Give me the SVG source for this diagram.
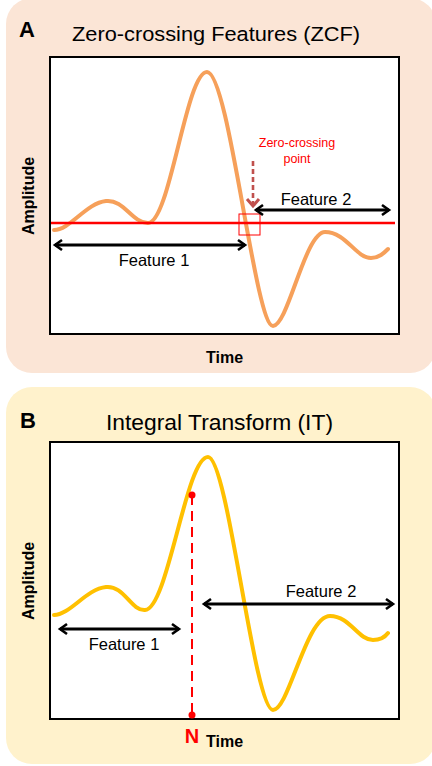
<svg xmlns="http://www.w3.org/2000/svg" width="432" height="766" viewBox="0 0 432 766">
  <style>
    .panel-a { fill: #FBE5D6; }
    .panel-b { fill: #FFF2CC; }
    .plot { fill: #FFFFFF; stroke: #000000; stroke-width: 2; }
    .title { font-family: "Liberation Sans", Arial, sans-serif; fill: #000; }
    .letter { font-family: "Liberation Sans", Arial, sans-serif; font-weight: bold; font-size: 22px; fill: #000; }
    .axis { font-family: "Liberation Sans", Arial, sans-serif; font-weight: bold; font-size: 16px; fill: #000; }
    .feat { font-family: "Liberation Sans", Arial, sans-serif; font-size: 16.5px; fill: #000; }
    .note { font-family: "Liberation Sans", Arial, sans-serif; font-size: 12.5px; fill: #FF0000; }
    .span { stroke: #000; stroke-width: 3; fill: none; marker-start: url(#chev); marker-end: url(#chev); }
    .wave-a { fill: none; stroke: #F6A05A; stroke-width: 4; stroke-linecap: round; stroke-linejoin: round; }
    .wave-b { fill: none; stroke: #FFC000; stroke-width: 4; stroke-linecap: round; stroke-linejoin: round; }
  </style>
  <defs>
    <marker id="chev" markerUnits="userSpaceOnUse" markerWidth="14" markerHeight="14" viewBox="-10 -7 12 14" refX="0" refY="0" orient="auto-start-reverse">
      <path d="M-7,-5 L0,0 L-7,5" fill="none" stroke="#000" stroke-width="2.6" stroke-linejoin="miter"/>
    </marker>
    <marker id="chev-red" markerUnits="userSpaceOnUse" markerWidth="16" markerHeight="16" viewBox="-10 -8 12 16" refX="0" refY="0" orient="auto">
      <path d="M-7,-6 L0,0 L-7,6" fill="none" stroke="#C0504D" stroke-width="3"/>
    </marker>
  </defs>

  <!-- Panel A: zero-crossing features -->
  <g id="panel-a">
    <rect class="panel-a" x="6" y="-2" width="430" height="375" rx="26"/>
    <text class="letter" x="19" y="37">A</text>
    <text class="title" x="72" y="41" font-size="20.5" textLength="288" lengthAdjust="spacingAndGlyphs">Zero-crossing Features (ZCF)</text>
    <rect class="plot" x="50" y="57" width="349" height="277"/>
    <text class="axis" transform="translate(34,196) rotate(-90)" text-anchor="middle">Amplitude</text>
    <text class="axis" x="224.5" y="363" text-anchor="middle">Time</text>
  </g>

  <g id="wave-a">
    <path class="wave-a" d="M54,230 C70,230 86,203 106,201 C124,199 132,223 148,223 C170,223 186,72 207,72 C229,72 255,326 273,326 C288,326 305,232 325,232 C346,232 356,258 371,258 C379,258 384,253 388,249"/>
  </g>

  <g id="zero-line">
    <line x1="51" y1="223" x2="395" y2="223" stroke="#FF0000" stroke-width="2.5"/>
    <rect x="239" y="214" width="21" height="21" fill="none" stroke="#FF0000" stroke-width="1"/>
  </g>

  <g id="zero-crossing-label">
    <text class="note" x="297" y="147" text-anchor="middle">Zero-crossing</text>
    <text class="note" x="297" y="163" text-anchor="middle">point</text>
  </g>

  <g id="feature-labels-a">
    <text class="feat" x="316" y="205" text-anchor="middle">Feature 2</text>
    <text class="feat" x="154" y="266" text-anchor="middle">Feature 1</text>
  </g>

  <!-- Panel B: integral transform -->
  <g id="panel-b">
    <rect class="panel-b" x="6" y="387" width="430" height="377" rx="26"/>
    <text class="letter" x="20" y="428">B</text>
    <text class="title" x="106" y="430" font-size="21.5" textLength="227" lengthAdjust="spacingAndGlyphs">Integral Transform (IT)</text>
    <rect class="plot" x="50" y="442" width="349" height="277"/>
    <text class="axis" transform="translate(34,581) rotate(-90)" text-anchor="middle">Amplitude</text>
    <text class="axis" x="224.5" y="747" text-anchor="middle">Time</text>
    <text x="192" y="743" text-anchor="middle" font-family="Liberation Sans, Arial, sans-serif" font-weight="bold" font-size="20" fill="#FF0000">N</text>
  </g>

  <g id="wave-b">
    <path class="wave-b" d="M54,615 C70,615 86,589 106,587 C124,585 131,611 145,610 C168,609 186,457 208,457 C228,457 254,710 273,710 C289,710 306,616 330,616 C350,616 358,640 373,640 C380,640 385,637 388,633"/>
  </g>

  <g id="marker-n">
    <line x1="192" y1="495" x2="192" y2="715" stroke="#FF0000" stroke-width="2" stroke-dasharray="10,6"/>
    <circle cx="192" cy="495" r="3.5" fill="#FF0000"/>
    <circle cx="192" cy="715" r="3.5" fill="#FF0000"/>
  </g>

  <g id="feature-labels-b">
    <text class="feat" x="321" y="597" text-anchor="middle">Feature 2</text>
    <text class="feat" x="124" y="650" text-anchor="middle">Feature 1</text>
  </g>

  <!-- Connectors: span arrows and the pointer to the crossing -->
  <g id="connectors">
    <line class="span" x1="256" y1="210" x2="389" y2="210"/>
    <line class="span" x1="55" y1="245" x2="245" y2="245"/>
    <line x1="253" y1="161" x2="253" y2="206" stroke="#C0504D" stroke-width="2.6" stroke-dasharray="5,3" marker-end="url(#chev-red)"/>
    <line class="span" x1="204" y1="604" x2="393" y2="604"/>
    <line class="span" x1="60" y1="629" x2="179" y2="629"/>
  </g>
</svg>
